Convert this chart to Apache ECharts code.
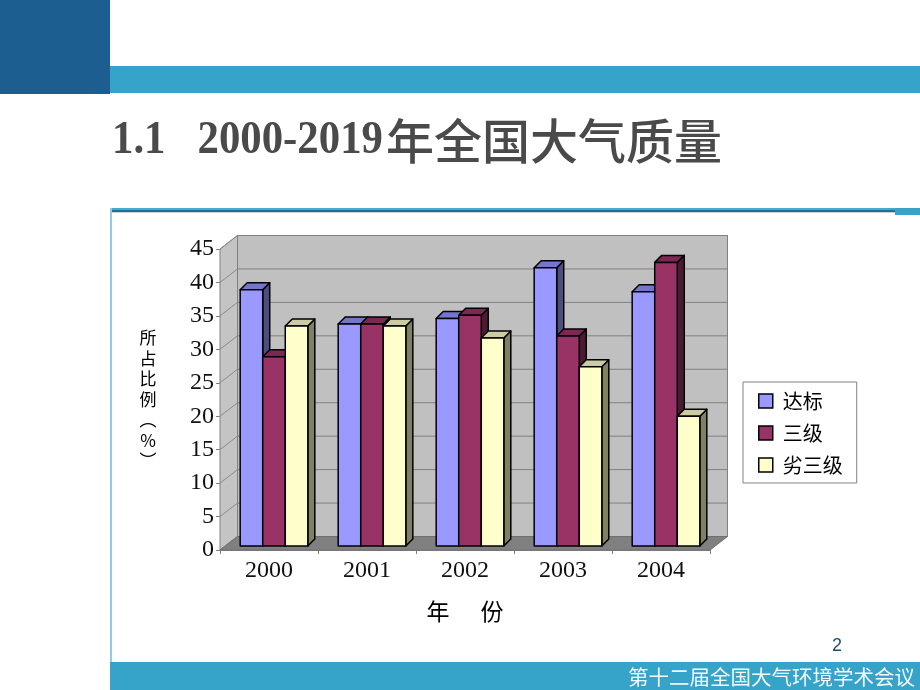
<!DOCTYPE html>
<html>
<head>
<meta charset="utf-8">
<script src="https://cdn.jsdelivr.net/npm/echarts@6/dist/echarts.min.js"></script>
<style>
html,body{margin:0;padding:0;background:#fff;}
#chart{width:920px;height:690px;}
</style>
</head>
<body>
<div id="chart"></div>
<script>
// ---- data ----
const categories = ['2000', '2001', '2002', '2003', '2004'];
const seriesNames = ['达标', '三级', '劣三级'];
const dabiao = [38.3, 33.2, 34.0, 41.6, 38.0];
const sanji = [28.3, 33.2, 34.5, 31.4, 42.4];
const liesanji = [32.9, 32.9, 31.1, 26.8, 19.4];
const yTicks = [0, 5, 10, 15, 20, 25, 30, 35, 40, 45];
const yMin = 0, yMax = 45, yStep = 5;

// ---- styling constants ----
const DX = 17.5, DY = -13.5;      // wall depth
const FX = 5, FY = -4;            // bar front-face depth offset
const BX = 7, BY = -7;            // bar depth
const palette = [
  {front: '#9999FF', top: '#7575CC', side: '#4D4D80'},
  {front: '#993366', top: '#7A2952', side: '#4D1A33'},
  {front: '#FFFFCC', top: '#CCCCA3', side: '#808066'}
];

function renderWalls(params, api) {
  const cs = params.coordSys;
  const x0 = cs.x, x1 = cs.x + cs.width;
  const y = v => api.coord([0, v])[1];
  const yb = y(yMin), yt = y(yMax);
  const ch = [];
  ch.push({type: 'rect', shape: {x: x0 + DX, y: yt + DY, width: cs.width, height: yb - yt},
    style: {fill: '#C0C0C0', stroke: '#808080', lineWidth: 1}});
  yTicks.forEach(v => {
    ch.push({type: 'line', shape: {x1: x0 + DX, y1: y(v) + DY, x2: x1 + DX, y2: y(v) + DY},
      style: {stroke: '#808080', lineWidth: 1}});
  });
  ch.push({type: 'polygon', shape: {points: [[x0, yb], [x0, yt], [x0 + DX, yt + DY], [x0 + DX, yb + DY]]},
    style: {fill: '#C4C4C4', stroke: '#808080', lineWidth: 1}});
  yTicks.forEach(v => {
    ch.push({type: 'line', shape: {x1: x0, y1: y(v), x2: x0 + DX, y2: y(v) + DY},
      style: {stroke: '#8A8A8A', lineWidth: 1}});
  });
  ch.push({type: 'polygon', shape: {points: [[x0, yb], [x1, yb], [x1 + DX, yb + DY], [x0 + DX, yb + DY]]},
    style: {fill: '#808080', stroke: '#707070', lineWidth: 1}});
  return {type: 'group', children: ch};
}

function makeBarRenderer(k) {
  return function (params, api) {
    const cat = api.value(0), val = api.value(1);
    const c = api.coord([cat, val]);
    const base = api.coord([cat, 0]);
    const band = api.size([1, 0])[0];
    const bw = band * 0.23;
    const x0 = c[0] - 1.5 * bw + k * bw + FX;
    const yt = c[1] + FY, yb = base[1] + FY;
    const col = palette[k];
    const st = {stroke: '#000', lineWidth: 1.5, lineJoin: 'round'};
    return {type: 'group', children: [
      {type: 'polygon', shape: {points: [[x0 + bw, yt], [x0 + bw + BX, yt + BY], [x0 + bw + BX, yb + BY], [x0 + bw, yb]]},
        style: Object.assign({fill: col.side}, st)},
      {type: 'polygon', shape: {points: [[x0, yt], [x0 + bw, yt], [x0 + bw + BX, yt + BY], [x0 + BX, yt + BY]]},
        style: Object.assign({fill: col.top}, st)},
      {type: 'rect', shape: {x: x0, y: yt, width: bw, height: yb - yt},
        style: Object.assign({fill: col.front}, st)}
    ]};
  };
}

function pairs(arr) { return arr.map((v, i) => [i, v]); }

const chart = echarts.init(document.getElementById('chart'), null, {renderer: 'canvas'});
const serif = '"Liberation Serif", "Times New Roman", serif';
const cjk = '"Noto Sans CJK SC", sans-serif';

const option = {
  animation: false,
  backgroundColor: '#fff',
  graphic: [
    {type: 'rect', shape: {x: 0, y: 0, width: 110, height: 94}, style: {fill: '#1D5E91'}, z: 1},
    {type: 'rect', shape: {x: 110, y: 66, width: 810, height: 27}, style: {fill: '#36A3C9'}, z: 1},
    {type: 'text', x: 112, y: 141, scaleX: 0.93, style: {text: '1.1   2000-2019', font: 'bold 46px "Liberation Serif", serif', fill: '#4A4A4A', textVerticalAlign: 'middle'}, z: 1},
    {type: 'text', x: 386, y: 141, style: {text: '年全国大气质量', font: '500 48px "Noto Sans CJK SC", sans-serif', fill: '#4A4A4A', textVerticalAlign: 'middle'}, z: 1},
    {type: 'rect', shape: {x: 110, y: 208, width: 810, height: 2}, style: {fill: '#45AAD0'}, z: 1},
    {type: 'rect', shape: {x: 110, y: 210, width: 785, height: 2}, style: {fill: '#1F6E99'}, z: 1},
    {type: 'rect', shape: {x: 112, y: 212, width: 783, height: 1}, style: {fill: '#D0D0D0'}, z: 1},
    {type: 'rect', shape: {x: 895, y: 208, width: 25, height: 7}, style: {fill: '#36A3C9'}, z: 1},
    {type: 'rect', shape: {x: 110, y: 208, width: 2, height: 454}, style: {fill: '#8FCDE3'}, z: 1},
    {type: 'rect', shape: {x: 110, y: 662, width: 810, height: 28}, style: {fill: '#36A3C9'}, z: 1},
    {type: 'text', x: 915, y: 677, style: {text: '第十二届全国大气环境学术会议', font: '20.5px "Noto Sans CJK SC", sans-serif', fill: '#F2FAFD', textAlign: 'right', textVerticalAlign: 'middle'}, z: 1},
    {type: 'text', x: 837, y: 646, style: {text: '2', font: '18px "Liberation Sans", sans-serif', fill: '#1C4E6E', textAlign: 'center', textVerticalAlign: 'middle'}, z: 1}
  ],
  legend: {
    orient: 'vertical', left: 743, top: 382,
    padding: [9, 14, 8, 15], itemGap: 12, itemWidth: 14, itemHeight: 14,
    borderColor: '#808080', borderWidth: 1, backgroundColor: '#fff',
    textStyle: {fontSize: 20, fontFamily: cjk, color: '#000', padding: [0, 0, 0, 5]},
    data: seriesNames.map((n, k) => ({name: n, icon: 'rect',
      itemStyle: {color: palette[k].front, borderColor: '#000', borderWidth: 1.5}}))
  },
  grid: {left: 220, top: 249, width: 490, height: 301, containLabel: false},
  xAxis: {
    type: 'category', data: categories,
    name: '年      份', nameLocation: 'middle', nameGap: 50,
    nameTextStyle: {fontSize: 23, fontFamily: cjk, color: '#000', verticalAlign: 'top'},
    axisLine: {show: true, lineStyle: {color: '#808080'}},
    axisTick: {show: true, length: 4, lineStyle: {color: '#808080'}},
    axisLabel: {fontSize: 24, fontFamily: serif, color: '#111', margin: 9},
    splitLine: {show: false}
  },
  yAxis: {
    type: 'value', min: yMin, max: yMax, interval: yStep,
    name: '所\n占\n比\n例\n︵\n%\n︶', nameLocation: 'middle', nameGap: 72, nameRotate: 0,
    nameTextStyle: {fontSize: 17, fontFamily: cjk, color: '#000', lineHeight: 20.5, align: 'center', padding: [10, 0, 0, 0]},
    axisLine: {show: true, lineStyle: {color: '#808080'}},
    axisTick: {show: true, length: 4, lineStyle: {color: '#808080'}},
    axisLabel: {fontSize: 24, fontFamily: serif, color: '#111', margin: 6},
    splitLine: {show: false}
  },
  series: [
    {type: 'custom', name: 'walls', renderItem: renderWalls, data: [[0, 0]], z: 1, clip: false, silent: true},
    {type: 'custom', name: seriesNames[0], renderItem: makeBarRenderer(0), data: pairs(dabiao), z: 2, clip: false,
      itemStyle: {color: palette[0].front}},
    {type: 'custom', name: seriesNames[1], renderItem: makeBarRenderer(1), data: pairs(sanji), z: 3, clip: false,
      itemStyle: {color: palette[1].front}},
    {type: 'custom', name: seriesNames[2], renderItem: makeBarRenderer(2), data: pairs(liesanji), z: 4, clip: false,
      itemStyle: {color: palette[2].front}}
  ]
};
chart.setOption(option);
</script>
</body>
</html>
